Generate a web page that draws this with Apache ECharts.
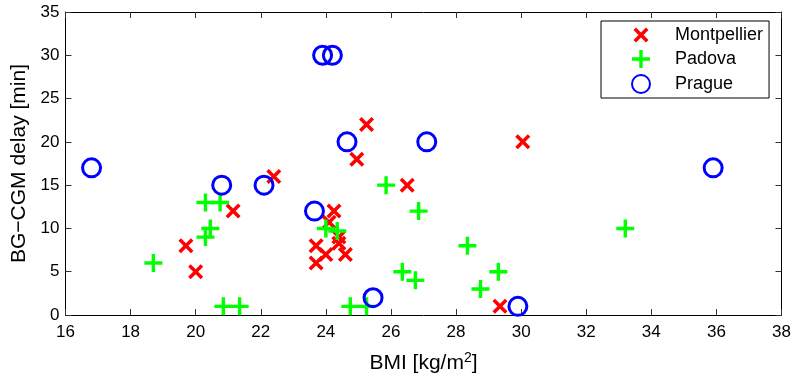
<!DOCTYPE html>
<html>
<head>
<meta charset="utf-8">
<script src="https://cdn.jsdelivr.net/npm/echarts@6/dist/echarts.min.js"></script>
<style>
  html, body { margin: 0; padding: 0; background: #fff; }
  #chart { width: 796px; height: 379px; }
</style>
</head>
<body>
<div id="chart"></div>
<script>
// BMI vs BG-CGM delay, one list of [bmi, delay] pairs per centre
const montpellier = [
  [19.7, 8], [20.0, 5], [21.15, 12], [22.4, 16], [23.7, 8], [23.7, 6],
  [24.0, 7], [24.1, 10.7], [24.25, 12], [24.4, 9], [24.4, 8.3], [24.6, 7],
  [24.95, 18], [25.25, 22], [26.5, 15], [29.35, 1], [30.05, 20]
];
const padova = [
  [18.7, 6], [20.3, 13], [20.75, 13], [20.45, 10], [20.3, 9], [20.85, 1],
  [21.35, 1], [24.0, 10], [24.35, 9.7], [24.75, 1], [25.25, 1], [25.85, 15],
  [26.85, 12], [26.35, 5], [26.75, 4], [28.35, 8], [28.75, 3], [29.3, 5],
  [33.2, 10]
];
const prague = [
  [16.8, 17], [20.8, 15], [22.1, 15], [23.65, 12], [23.9, 30], [24.2, 30],
  [24.65, 20], [25.45, 2], [27.1, 20], [29.9, 1], [35.9, 17]
];
const seriesNames = ["Montpellier", "Padova", "Prague"];

// marker shapes (matlab style x and +)
const xMark = "path://M0,0M18,18M1.5,4L4,1.5L9,6.5L14,1.5L16.5,4L11.5,9L16.5,14L14,16.5L9,11.5L4,16.5L1.5,14L6.5,9Z";
const plusMark = "path://M7.3,0H10.7V7.3H18V10.7H10.7V18H7.3V10.7H0V7.3H7.3Z";

const font = "Liberation Sans, Arial, Helvetica, sans-serif";
const chart = echarts.init(document.getElementById("chart"));

const frameAxis = {
  axisLine: { show: true, onZero: false, lineStyle: { color: "#000", width: 1 } },
  axisTick: { show: true, inside: true, length: 6, lineStyle: { color: "#333" } },
  splitLine: { show: false },
};

chart.setOption({
  animation: false,
  grid: { left: 65.5, right: 14.5, top: 12, bottom: 64 },
  legend: {
    data: seriesNames,
    orient: "vertical",
    left: 601,
    top: 21,
    padding: [5, 6, 4, 30],
    itemWidth: 58,
    itemHeight: 18,
    itemGap: 6,
    borderColor: "#000",
    borderWidth: 1,
    backgroundColor: "#fff",
    textStyle: { fontFamily: font, fontSize: 18, color: "#000" },
  },
  xAxis: [
    {
      ...frameAxis,
      type: "value",
      min: 16,
      max: 38,
      interval: 2,
      position: "bottom",
      axisLabel: { fontFamily: font, fontSize: 17, color: "#000", margin: 9 },
      name: "{a|BMI [kg/m}{s|2}{a|]}",
      nameLocation: "middle",
      nameGap: 36,
      nameTextStyle: {
        rich: {
          a: { fontFamily: font, fontSize: 21, color: "#000" },
          s: { fontFamily: font, fontSize: 14, color: "#000", padding: [0, 0, 11, 0] },
        },
      },
    },
    {
      ...frameAxis,
      type: "value",
      min: 16,
      max: 38,
      interval: 2,
      position: "top",
      axisLabel: { show: false },
    },
  ],
  yAxis: [
    {
      ...frameAxis,
      type: "value",
      min: 0,
      max: 35,
      interval: 5,
      position: "left",
      axisLabel: { fontFamily: font, fontSize: 17, color: "#000", margin: 6 },
      name: "BG\u2212CGM delay [min]",
      nameLocation: "middle",
      nameGap: 30,
      nameTextStyle: { fontFamily: font, fontSize: 21, color: "#000" },
    },
    {
      ...frameAxis,
      type: "value",
      min: 0,
      max: 35,
      interval: 5,
      position: "right",
      axisLabel: { show: false },
    },
  ],
  series: [
    {
      name: seriesNames[0],
      type: "scatter",
      data: montpellier,
      symbol: xMark,
      symbolSize: 18,
      itemStyle: { color: "#ff0000", opacity: 1 },
    },
    {
      name: seriesNames[1],
      type: "scatter",
      data: padova,
      symbol: plusMark,
      symbolSize: 18,
      itemStyle: { color: "#00ff00", opacity: 1 },
    },
    {
      name: seriesNames[2],
      type: "scatter",
      data: prague,
      symbol: "circle",
      symbolSize: 18,
      itemStyle: { color: "rgba(0,0,0,0)", borderColor: "#0000ff", borderWidth: 3, opacity: 1 },
    },
  ],
});
</script>
</body>
</html>
